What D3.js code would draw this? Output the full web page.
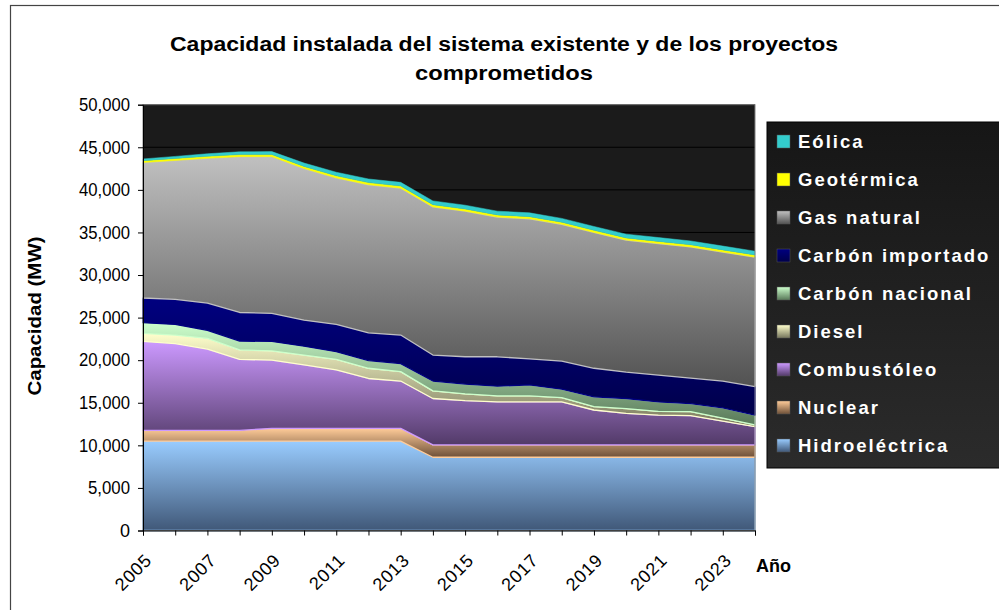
<!DOCTYPE html>
<html lang="es">
<head>
  <meta charset="UTF-8">
  <title>Capacidad instalada</title>
  <style>
    body { margin: 0; background: #fff; }
    svg { display: block; }
    text { font-family: "Liberation Sans", Arial, sans-serif; }
  </style>
</head>
<body>
  <svg width="999" height="610"></svg>
  <script src="https://d3js.org/d3.v7.min.js"></script>
  <script>
    // años (categorías)
    const years = [2005, 2006, 2007, 2008, 2009, 2010, 2011, 2012, 2013, 2014,
                   2015, 2016, 2017, 2018, 2019, 2020, 2021, 2022, 2023, 2024];

    // capacidad por tecnología (MW)
    const hidro      = [10500, 10500, 10500, 10500, 10500, 10500, 10500, 10500, 10500, 8600,
                        8600, 8600, 8600, 8600, 8600, 8600, 8600, 8600, 8600, 8600];
    const nuclear    = [1250, 1250, 1250, 1250, 1500, 1500, 1500, 1500, 1500, 1450,
                        1450, 1450, 1450, 1450, 1450, 1450, 1450, 1450, 1450, 1450];
    const combust    = [10450, 10200, 9550, 8350, 8000, 7450, 6850, 5850, 5550, 5450,
                        5200, 5050, 5050, 5050, 4100, 3700, 3500, 3450, 2800, 2150];
    const diesel     = [950, 1000, 1250, 1100, 1100, 1150, 1250, 1200, 1100, 900,
                        800, 700, 700, 500, 400, 550, 450, 450, 350, 200];
    const carbonNac  = [1250, 1250, 950, 1050, 1100, 1050, 900, 900, 950, 1150,
                        1150, 1150, 1300, 1000, 1150, 1200, 1100, 950, 1200, 1150];
    const carbonImp  = [2900, 2950, 3200, 3350, 3300, 3050, 3200, 3250, 3350, 3050,
                        3200, 3450, 3050, 3300, 3350, 3100, 3150, 3000, 3150, 3350];
    const gasNatural = [15900, 16300, 17000, 18300, 18400, 17800, 17200, 17400, 17250, 17400,
                        17100, 16400, 16450, 16050, 15950, 15500, 15450, 15400, 15150, 15200];
    const geo        = [230, 230, 240, 240, 240, 250, 250, 250, 250, 250,
                        250, 250, 250, 250, 250, 250, 250, 250, 250, 250];
    const eolica     = [200, 250, 300, 330, 350, 400, 420, 430, 430, 450,
                        450, 450, 450, 450, 450, 450, 450, 450, 450, 450];

    const yTicks = [0, 5000, 10000, 15000, 20000, 25000, 30000, 35000, 40000, 45000, 50000];
    const xLabels = [2005, 2007, 2009, 2011, 2013, 2015, 2017, 2019, 2021, 2023];

    // series de abajo hacia arriba
    const series = [
      { key: "Hidroeléctrica",   values: hidro,      c0: "#99ccff", c1: "#405878" },
      { key: "Nuclear",          values: nuclear,    c0: "#ffcc99", c1: "#6e5038" },
      { key: "Combustóleo",      values: combust,    c0: "#cc99ff", c1: "#523a68" },
      { key: "Diesel",           values: diesel,     c0: "#ffffcc", c1: "#76765c" },
      { key: "Carbón nacional",  values: carbonNac,  c0: "#ccffcc", c1: "#587858" },
      { key: "Carbón importado", values: carbonImp,  c0: "#000080", c1: "#00004a" },
      { key: "Gas natural",      values: gasNatural, c0: "#c0c0c0", c1: "#525252" },
      { key: "Geotérmica",       values: geo,        c0: "#ffff00", c1: "#ffff00" },
      { key: "Eólica",           values: eolica,     c0: "#33cccc", c1: "#33cccc" }
    ];

    const table = years.map((yr, i) => {
      const row = { year: yr };
      series.forEach(s => row[s.key] = s.values[i]);
      return row;
    });

    const svg = d3.select("svg");
    const plotL = 143, plotR = 755, plotT = 104.7, plotB = 530.5;

    const x = d3.scaleLinear().domain([2005, 2024]).range([plotL, plotR]);
    const y = d3.scaleLinear().domain([0, 50000]).range([plotB, plotT]);

    // borde exterior del gráfico
    svg.append("rect")
      .attr("x", 10.5).attr("y", 5.5).attr("width", 1000).attr("height", 620)
      .attr("fill", "#fff").attr("stroke", "#444").attr("stroke-width", 1.2);

    const defs = svg.append("defs");
    series.forEach((s, i) => {
      const g = defs.append("linearGradient").attr("id", "g" + i)
        .attr("x1", 0).attr("y1", 0).attr("x2", 0).attr("y2", 1);
      g.append("stop").attr("offset", 0).attr("stop-color", s.c0);
      g.append("stop").attr("offset", 1).attr("stop-color", s.c1);
    });
    const lg = defs.append("linearGradient").attr("id", "legBg")
      .attr("x1", 0).attr("y1", 0).attr("x2", 0).attr("y2", 1);
    lg.append("stop").attr("offset", 0).attr("stop-color", "#161616");
    lg.append("stop").attr("offset", 1).attr("stop-color", "#2b2b2b");

    // fondo del área de trazado
    svg.append("rect")
      .attr("x", plotL).attr("y", plotT).attr("width", plotR - plotL).attr("height", plotB - plotT)
      .attr("fill", "#1b1b1b");

    // líneas de cuadrícula
    svg.append("g").selectAll("line")
      .data(yTicks.filter(d => d > 0))
      .join("line")
      .attr("x1", plotL).attr("x2", plotR)
      .attr("y1", d => y(d)).attr("y2", d => y(d))
      .attr("stroke", "#000").attr("stroke-width", 1);

    // áreas apiladas
    const stack = d3.stack().keys(series.map(s => s.key));
    const stacked = stack(table);
    const area = d3.area()
      .x(d => x(d.data.year))
      .y0(d => y(d[0]))
      .y1(d => y(d[1]));

    svg.append("g").selectAll("path")
      .data(stacked)
      .join("path")
      .attr("d", area)
      .attr("fill", (d, i) => `url(#g${i})`)
      .attr("stroke", (d, i) => series[i].c0)
      .attr("stroke-width", (d, i) => i >= 7 ? 0.5 : 1.3)
      .attr("stroke-linejoin", "round");

    // borde del área de trazado
    svg.append("rect")
      .attr("x", plotL).attr("y", plotT).attr("width", plotR - plotL).attr("height", plotB - plotT)
      .attr("fill", "none").attr("stroke", "#808080").attr("stroke-width", 1);

    // ejes
    const yAxis = svg.append("g")
      .attr("transform", `translate(${plotL},0)`)
      .call(d3.axisLeft(y).tickValues(yTicks).tickFormat(d3.format(",")).tickSize(5).tickPadding(8));
    yAxis.select(".domain").attr("stroke", "#000");
    yAxis.selectAll("text").attr("font-size", 18).attr("fill", "#000")
      .attr("textLength", d => d === 0 ? null : (d < 10000 ? 42 : 51))
      .attr("lengthAdjust", "spacingAndGlyphs")
      .style("font-family", "'Liberation Sans', Arial, sans-serif");

    const xAxis = svg.append("g")
      .attr("transform", `translate(0,${plotB})`)
      .call(d3.axisBottom(x).tickValues(years).tickSize(5).tickFormat(""));
    xAxis.select(".domain").attr("stroke", "#000");

    svg.append("g").selectAll("text")
      .data(xLabels)
      .join("text")
      .attr("transform", d => `translate(${x(d) + 1},${plotB + 22}) rotate(-45)`)
      .attr("text-anchor", "end")
      .attr("dy", "0.7em")
      .attr("font-size", 18)
      .attr("letter-spacing", 0.8)
      .text(d => d);

    svg.append("text")
      .attr("x", 756).attr("y", 572)
      .attr("font-size", 18).attr("font-weight", "bold")
      .text("Año");

    svg.append("text")
      .attr("transform", "translate(41,316) rotate(-90)")
      .attr("text-anchor", "middle")
      .attr("font-size", 18).attr("font-weight", "bold")
      .attr("textLength", 159).attr("lengthAdjust", "spacingAndGlyphs")
      .text("Capacidad (MW)");

    // título
    svg.append("text")
      .attr("x", 504).attr("y", 51)
      .attr("text-anchor", "middle")
      .attr("font-size", 19.5).attr("font-weight", "bold")
      .attr("textLength", 668).attr("lengthAdjust", "spacingAndGlyphs")
      .text("Capacidad instalada del sistema existente y de los proyectos");
    svg.append("text")
      .attr("x", 504).attr("y", 80)
      .attr("text-anchor", "middle")
      .attr("font-size", 19.5).attr("font-weight", "bold")
      .attr("textLength", 178).attr("lengthAdjust", "spacingAndGlyphs")
      .text("comprometidos");

    // leyenda
    svg.append("rect")
      .attr("x", 767).attr("y", 122).attr("width", 240).attr("height", 346)
      .attr("fill", "url(#legBg)").attr("stroke", "#000").attr("stroke-width", 1);

    const legendItems = series.slice().reverse();
    const leg = svg.append("g").selectAll("g")
      .data(legendItems)
      .join("g")
      .attr("transform", (d, i) => `translate(777,${141 + i * 38})`);
    leg.append("rect")
      .attr("x", 0).attr("y", -6).attr("width", 13).attr("height", 13)
      .attr("fill", d => `url(#g${series.indexOf(d)})`)
      .attr("stroke", "#555").attr("stroke-width", 0.5);
    leg.append("text")
      .attr("x", 21).attr("y", 0).attr("dy", "0.36em")
      .attr("font-size", 18.5).attr("font-weight", "bold")
      .attr("letter-spacing", 2)
      .attr("fill", "#fff")
      .text(d => d.key);
  </script>
</body>
</html>
